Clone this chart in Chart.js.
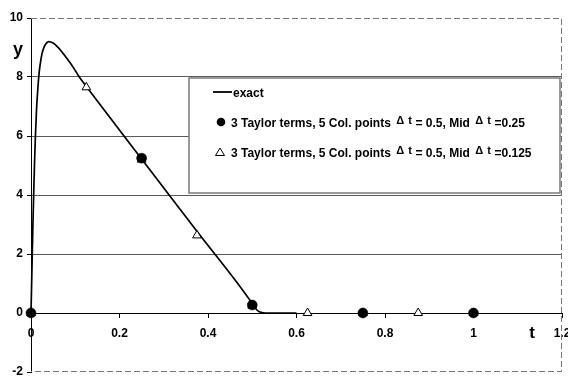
<!DOCTYPE html>
<html>
<head>
<meta charset="utf-8">
<style>
  html, body { margin: 0; padding: 0; background: #fff; }
  #wrap { width: 568px; height: 378px; }
</style>
<script src="https://cdn.jsdelivr.net/npm/chart.js@4/dist/chart.umd.min.js"></script>
</head>
<body>
<div id="wrap"><canvas id="c" width="568" height="378"></canvas></div>
<script>
// Exact solution y(t)
const exactT = [0, 0.002, 0.004, 0.006, 0.008, 0.01, 0.0125, 0.015, 0.0175, 0.02, 0.025, 0.03, 0.035, 0.04, 0.05, 0.06, 0.07, 0.08, 0.09, 0.1, 0.11, 0.125, 0.25, 0.375, 0.5, 0.505, 0.51, 0.515, 0.52, 0.53, 0.6];
const exactY = [0, 1.4, 2.8, 4.0, 5.1, 6.0, 6.9, 7.5, 8.0, 8.35, 8.8, 9.03, 9.15, 9.2, 9.15, 9.02, 8.85, 8.65, 8.45, 8.22, 7.98, 7.68, 5.22, 2.77, 0.32, 0.2, 0.11, 0.05, 0.02, 0, 0];

// Collocation results, mid step 0.25
const midQuarterT = [0, 0.25, 0.5, 0.75, 1];
const midQuarterY = [0, 5.25, 0.27, 0, 0];

// Collocation results, mid step 0.125
const midEighthT = [0, 0.125, 0.25, 0.375, 0.5, 0.625, 0.75, 0.875, 1];
const midEighthY = [0, 7.65, 5.2, 2.63, 0.25, 0, 0, 0, 0];

const seriesLabels = [
  'exact',
  '3 Taylor terms, 5 Col. points Δ t = 0.5, Mid Δ t =0.25',
  '3 Taylor terms, 5 Col. points Δ t = 0.5, Mid Δ t =0.125'
];

const xTickLabels = ['0', '0.2', '0.4', '0.6', '0.8', '1', '1.2'];
const yTickLabels = ['-2', '0', '2', '4', '6', '8', '10'];

const toXY = (xs, ys) => xs.map((x, i) => ({ x: x, y: ys[i] }));

const FONT = '"Liberation Sans", Arial, sans-serif';

// Dashed frame on top, right and bottom of the plot area
const frame = {
  id: 'frame',
  beforeDatasetsDraw(chart) {
    const { ctx, chartArea: a } = chart;
    ctx.save();
    ctx.lineWidth = 1;
    ctx.setLineDash([6, 3]);
    ctx.strokeStyle = '#777';
    ctx.beginPath();
    ctx.moveTo(a.left, a.top + 0.5);
    ctx.lineTo(a.right - 0.5, a.top + 0.5);
    ctx.lineTo(a.right - 0.5, a.bottom - 0.5);
    ctx.lineTo(a.left, a.bottom - 0.5);
    ctx.stroke();
    ctx.restore();
  }
};

// Axis names placed inside the plotting frame
const axisNames = {
  id: 'axisNames',
  afterDraw(chart) {
    const ctx = chart.ctx;
    ctx.save();
    ctx.fillStyle = '#000';
    ctx.textAlign = 'center';
    ctx.textBaseline = 'middle';
    ctx.font = 'bold 18px ' + FONT;
    ctx.fillText('y', 18, 50);
    ctx.font = 'bold 17px ' + FONT;
    ctx.fillText('t', 532, 333);
    ctx.restore();
  }
};

// Boxed legend with raised "Δ t" symbols
const boxLegend = {
  id: 'boxLegend',
  afterDatasetsDraw(chart, args, o) {
    const ctx = chart.ctx;
    ctx.save();
    ctx.fillStyle = '#fff';
    ctx.fillRect(o.x, o.y, o.w, o.h);
    ctx.strokeStyle = '#7a7a7a';
    ctx.lineWidth = 1.5;
    ctx.strokeRect(o.x, o.y, o.w, o.h);

    chart.data.datasets.forEach((ds, i) => {
      const cy = o.y + 14 + i * 30;
      const sx = o.x + 32;
      ctx.strokeStyle = '#000';
      ctx.fillStyle = '#000';
      if (ds.pointRadius === 0) {
        ctx.lineWidth = 1.8;
        ctx.beginPath();
        ctx.moveTo(sx - 8, cy);
        ctx.lineTo(sx + 11, cy);
        ctx.stroke();
      } else if (ds.pointStyle === 'circle') {
        ctx.beginPath();
        ctx.arc(sx, cy, 4.3, 0, Math.PI * 2);
        ctx.fill();
      } else {
        ctx.lineWidth = 1;
        ctx.fillStyle = '#fff';
        ctx.beginPath();
        ctx.moveTo(sx - 1, cy - 4);
        ctx.lineTo(sx + 3.5, cy + 3.5);
        ctx.lineTo(sx - 5.5, cy + 3.5);
        ctx.closePath();
        ctx.fill();
        ctx.stroke();
      }
      let tx = o.x + (i === 0 ? 44 : 42);
      ctx.fillStyle = '#000';
      ctx.textAlign = 'left';
      ctx.textBaseline = 'alphabetic';
      const base = cy + 4.5;
      const parts = ds.label.split('Δ t');
      parts.forEach((p, k) => {
        ctx.font = 'bold 12px ' + FONT;
        ctx.fillText(p, tx, base);
        tx += ctx.measureText(p).width;
        if (k < parts.length - 1) {
          tx += 2;
          ctx.font = 'bold 11px ' + FONT;
          ctx.fillText('Δ', tx, base - 3);
          ctx.fillText('t', tx + 12, base - 3);
          tx += 16;
        }
      });
    });
    ctx.restore();
  }
};

new Chart(document.getElementById('c'), {
  type: 'scatter',
  data: {
    datasets: [
      {
        label: seriesLabels[0],
        data: toXY(exactT, exactY),
        showLine: true,
        borderColor: '#000',
        borderWidth: 1.7,
        pointRadius: 0,
        cubicInterpolationMode: 'monotone',
        order: 2
      },
      {
        label: seriesLabels[1],
        data: toXY(midQuarterT, midQuarterY),
        pointStyle: 'circle',
        pointRadius: 5,
        backgroundColor: '#000',
        borderColor: '#000',
        borderWidth: 0.5,
        order: 0
      },
      {
        label: seriesLabels[2],
        data: toXY(midEighthT, midEighthY),
        pointStyle: 'triangle',
        pointRadius: 5,
        backgroundColor: '#fff',
        borderColor: '#000',
        borderWidth: 1,
        order: 1
      }
    ]
  },
  options: {
    responsive: false,
    animation: false,
    devicePixelRatio: 1,
    layout: { padding: { left: 0, right: 5, top: 18, bottom: 3 } },
    clip: false,
    plugins: {
      legend: { display: false },
      tooltip: { enabled: false },
      boxLegend: { x: 189, y: 78, w: 371, h: 115 }
    },
    scales: {
      x: {
        type: 'linear',
        position: { y: 0 },
        min: 0,
        max: 1.2,
        afterFit(s) { s.paddingLeft = 0; s.paddingRight = 0; },
        afterBuildTicks(s) {
          s.ticks = xTickLabels.map(v => ({ value: parseFloat(v) }));
        },
        ticks: {
          autoSkip: false,
          maxRotation: 0,
          padding: 9,
          color: '#000',
          font: { family: FONT, size: 12, weight: 'bold' },
          callback: (v, i) => xTickLabels[i]
        },
        grid: { drawOnChartArea: false, drawTicks: true, tickLength: 4, tickColor: '#000' },
        border: { display: true, color: '#000', width: 1 }
      },
      y: {
        type: 'linear',
        position: 'left',
        min: -2,
        max: 10,
        afterFit(s) { s.width = 31; s.paddingTop = 0; s.paddingBottom = 0; },
        afterBuildTicks(s) {
          s.ticks = yTickLabels.map(v => ({ value: parseFloat(v) }));
        },
        ticks: {
          autoSkip: false,
          padding: 4,
          color: '#000',
          font: { family: FONT, size: 12, weight: 'bold' },
          callback: (v, i) => yTickLabels[i]
        },
        grid: {
          drawTicks: true,
          tickLength: 4,
          tickColor: '#000',
          lineWidth: 1,
          color: c => ([2, 4, 6, 8].includes(c.tick && c.tick.value) ? '#5a5a5a' : 'rgba(0,0,0,0)')
        },
        border: { display: true, color: '#000', width: 1 }
      }
    }
  },
  plugins: [frame, boxLegend, axisNames]
});
</script>
</body>
</html>
